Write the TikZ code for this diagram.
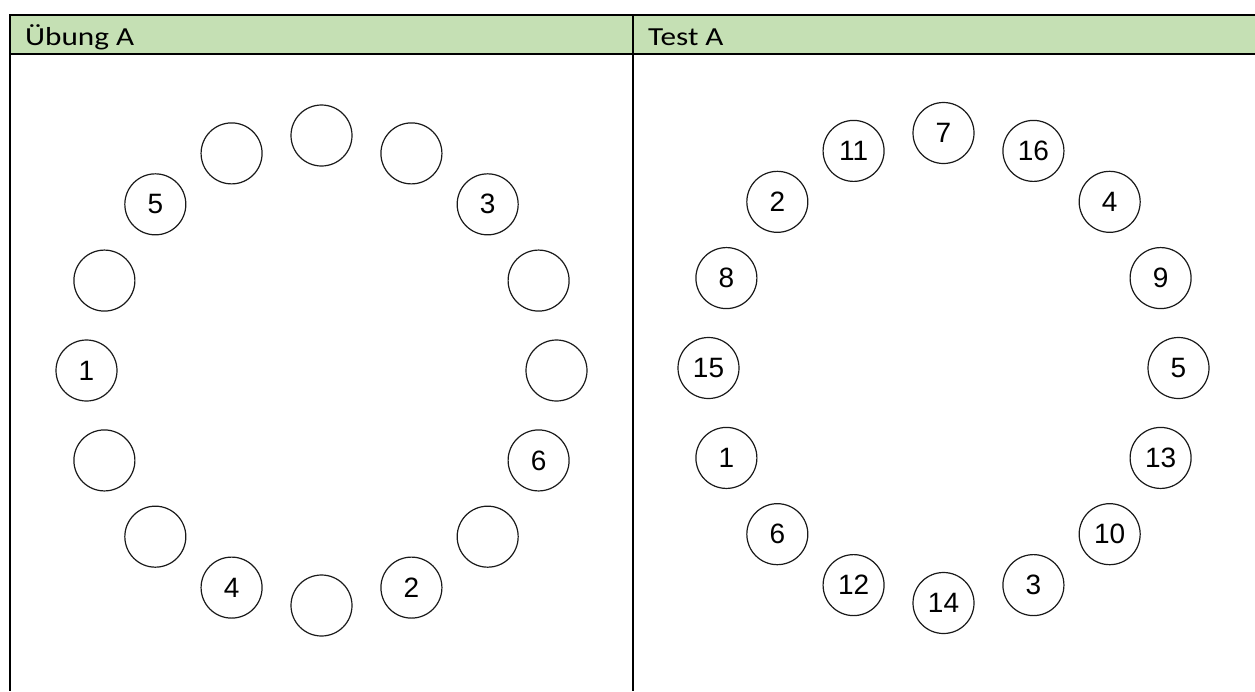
\documentclass[tikz,border=0pt]{standalone}
\usepackage{fontspec}
\setmainfont{Liberation Sans}
\newfontfamily\headfont{Carlito}
\definecolor{headgreen}{HTML}{C5E0B4}
\tikzset{
  ring/.style={circle, draw=black!90, line width=1.2pt, minimum size=61pt,
    inner sep=0pt, font=\fontsize{28}{28}\selectfont},
  rule/.style={line width=1.9pt, black},
  headtext/.style={anchor=base west, inner sep=0pt,
    font=\headfont\fontsize{26}{26}\selectfont}
}
\begin{document}
\begin{tikzpicture}[x=1pt,y=-1pt]
  \useasboundingbox (0,0) rectangle (1255,691);
  % header row of the table
  \fill[headgreen] (10,15) rectangle (1255,54);
  \draw[rule] (10,15) -- (1255,15);
  \draw[rule] (10,54) -- (1255,54);
  \draw[rule] (10,14) -- (10,691);
  \draw[rule] (633,15) -- (633,691);
  \node[headtext] (hA) at (25,45.5) {\scalebox{1.2}[1]{Übung A}};
  \node[headtext] (hB) at (648,45.5) {\scalebox{1.2}[1]{Test A}};
  % practice ring, clockwise from the top
  \foreach \lab [count=\i from 0] in {{},{},3,{},{},6,{},2,{},4,{},{},1,{},5,{}} {
    \node[ring] (L\i) at ({321.5+235*cos(90-22.5*\i)},{370.5-235*sin(90-22.5*\i)}) {\lab};
  }
  % test ring, clockwise from the top
  \foreach \lab [count=\i from 0] in {7,16,4,9,5,13,10,3,14,12,6,1,15,8,2,11} {
    \node[ring] (R\i) at ({943.5+235*cos(90-22.5*\i)},{368-235*sin(90-22.5*\i)}) {\lab};
  }
\end{tikzpicture}
\end{document}
